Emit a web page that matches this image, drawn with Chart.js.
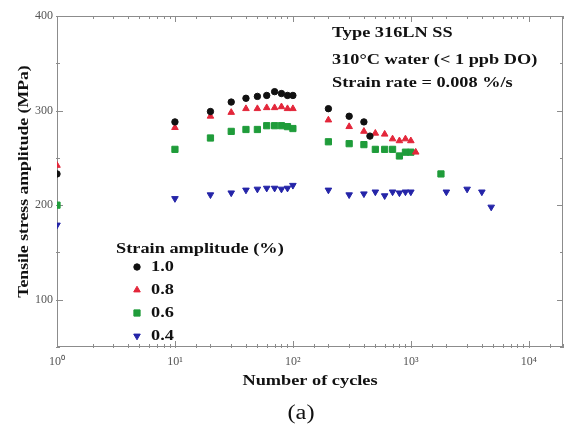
<!DOCTYPE html>
<html>
<head>
<meta charset="utf-8">
<script src="https://cdn.jsdelivr.net/npm/chart.js@4"></script>
<style>
    html, body { margin: 0; padding: 0; background: #fff; }
    #wrap { width: 565px; height: 426px; position: relative; }
</style>
</head>
<body>
<div id="wrap"><canvas id="stressChart"></canvas></div>
<script>
// Dados (ciclos e amplitude de tensão em MPa)
const cycles10 = [1, 10, 20, 30, 40, 50, 60, 70, 80, 90, 100, 200, 300, 400, 450];
const stress10 = [233, 288, 299, 309, 313, 315, 316, 320, 318, 316, 316, 302, 294, 288, 273];

const cycles08 = [1, 10, 20, 30, 40, 50, 60, 70, 80, 90, 100, 200, 300, 400, 500, 600, 700, 800, 900, 1000, 1100];
const stress08 = [242, 282, 294, 298, 302, 302, 303, 303, 304, 302, 302, 290, 283, 278, 276, 275, 270, 268, 270, 268, 256];

const cycles06 = [1, 10, 20, 30, 40, 50, 60, 70, 80, 90, 100, 200, 300, 400, 500, 600, 700, 800, 900, 1000, 1800];
const stress06 = [200, 259, 271, 278, 280, 280, 284, 284, 284, 283, 281, 267, 265, 264, 259, 259, 259, 252, 256, 256, 233];

const cycles04 = [1, 10, 20, 30, 40, 50, 60, 70, 80, 90, 100, 200, 300, 400, 500, 600, 700, 800, 900, 1000, 2000, 3000, 4000, 4800];
const stress04 = [179, 207, 211, 213, 216, 217, 218, 218, 217, 218, 221, 216, 211, 212, 214, 210, 214, 213, 214, 214, 214, 217, 214, 198];

const seriesLabels = ['1.0', '0.8', '0.6', '0.4'];
const yTickValues = [100, 200, 300, 400];
const noteLines = ['Type 316LN SS', '310\u00B0C water (< 1 ppb DO)', 'Strain rate = 0.008 %/s'];

const SERIF = '"Liberation Serif", "Times New Roman", serif';
const superDigits = ['\u2070', '\u00B9', '\u00B2', '\u00B3', '\u2074', '\u2075'];
const STRETCH = 1.22; // o texto da figura original é mais largo

function toPoints(xs, ys) {
    return xs.map((x, i) => ({ x: x, y: ys[i] }));
}

function isDecade(v) {
    const e = Math.log10(v);
    return Math.abs(e - Math.round(e)) < 1e-9;
}

// Escreve texto esticado na horizontal (opcionalmente rodado)
function drawWideText(ctx, text, x, y, align, rotation) {
    ctx.save();
    ctx.translate(x, y);
    if (rotation) ctx.rotate(rotation);
    ctx.scale(STRETCH, 1);
    ctx.textAlign = align;
    ctx.fillText(text, 0, 0);
    ctx.restore();
}

const markerStyles = [
    { color: '#111111', pointStyle: 'circle', radius: 3.2, rotation: 0 },
    { color: '#e3263a', pointStyle: 'triangle', radius: 3.8, rotation: 0 },
    { color: '#1f9c3a', pointStyle: 'rect', radius: 4.4, rotation: 0 },
    { color: '#2424a8', pointStyle: 'triangle', radius: 3.8, rotation: 180 }
];

const seriesData = [
    toPoints(cycles10, stress10),
    toPoints(cycles08, stress08),
    toPoints(cycles06, stress06),
    toPoints(cycles04, stress04)
];

// Moldura com marcas de escala para dentro
const frameTicks = {
    id: 'frameTicks',
    beforeDatasetsDraw(chart) {
        const { ctx, chartArea: a, scales: { x, y } } = chart;
        ctx.save();
        ctx.strokeStyle = '#8c8c8c';
        ctx.lineWidth = 1;
        ctx.strokeRect(a.left + 0.5, a.top + 0.5, a.width - 1, a.height - 1);
        ctx.beginPath();
        x.ticks.forEach(t => {
            const px = Math.round(x.getPixelForValue(t.value)) + 0.5;
            const len = isDecade(t.value) ? 6 : 3;
            ctx.moveTo(px, a.bottom + 1); ctx.lineTo(px, a.bottom - len);
            ctx.moveTo(px, a.top); ctx.lineTo(px, a.top + len);
        });
        y.ticks.forEach(t => {
            const py = Math.round(y.getPixelForValue(t.value)) + 0.5;
            const len = t.value % 100 === 0 ? 6 : 3;
            ctx.moveTo(a.left - 1, py); ctx.lineTo(a.left + len, py);
            ctx.moveTo(a.right, py); ctx.lineTo(a.right - len, py);
        });
        ctx.stroke();
        ctx.restore();
    }
};

// Títulos dos eixos, anotações e legenda
const notesLegend = {
    id: 'notesLegend',
    afterDraw(chart) {
        const { ctx, chartArea: a } = chart;
        ctx.save();
        ctx.fillStyle = '#111';
        ctx.textBaseline = 'middle';
        ctx.font = 'bold 15px ' + SERIF;

        drawWideText(ctx, 'Number of cycles', (a.left + a.right) / 2, 381, 'center');
        ctx.font = 'bold 14.5px ' + SERIF;
        drawWideText(ctx, 'Tensile stress amplitude (MPa)', 24, (a.top + a.bottom) / 2, 'center', -Math.PI / 2);
        ctx.font = 'bold 15px ' + SERIF;

        const noteY = [33, 60, 83];
        noteLines.forEach((line, i) => drawWideText(ctx, line, 332, noteY[i], 'left'));

        drawWideText(ctx, 'Strain amplitude (%)', 116, 249, 'left');
        const legendY = [267, 290, 313, 336];
        seriesLabels.forEach((label, i) => {
            const m = markerStyles[i];
            ctx.fillStyle = m.color;
            ctx.strokeStyle = m.color;
            ctx.lineWidth = 1;
            Chart.helpers.drawPoint(ctx, { pointStyle: m.pointStyle, radius: m.radius, rotation: m.rotation, borderWidth: 1 }, 137, legendY[i]);
            ctx.fillStyle = '#111';
            drawWideText(ctx, label, 151, legendY[i], 'left');
        });

        ctx.font = '20px ' + SERIF;
        drawWideText(ctx, '(a)', 301, 414, 'center');
        ctx.restore();
    }
};

new Chart(document.getElementById('stressChart'), {
    type: 'scatter',
    data: {
        datasets: seriesData.map((pts, i) => ({
            label: seriesLabels[i],
            data: pts,
            showLine: false,
            pointStyle: markerStyles[i].pointStyle,
            pointRadius: markerStyles[i].radius,
            pointRotation: markerStyles[i].rotation,
            pointBackgroundColor: markerStyles[i].color,
            pointBorderColor: markerStyles[i].color,
            pointBorderWidth: 1
        }))
    },
    options: {
        responsive: true,
        maintainAspectRatio: false,
        devicePixelRatio: 1,
        animation: false,
        layout: { autoPadding: false, padding: { left: 0, right: 2, top: 16, bottom: 0 } },
        plugins: {
            legend: { display: false },
            tooltip: { enabled: false }
        },
        scales: {
            x: {
                type: 'logarithmic',
                min: 1,
                max: 19500,
                afterFit: s => { s.height = 79; s.paddingLeft = 0; s.paddingRight = 0; },
                grid: { display: false, drawTicks: false },
                border: { display: false },
                ticks: {
                    autoSkip: false,
                    maxRotation: 0,
                    padding: 8,
                    color: '#555',
                    font: { family: SERIF, size: 12 },
                    callback: function (value) {
                        if (!isDecade(value)) return '';
                        return '10' + superDigits[Math.round(Math.log10(value))];
                    }
                }
            },
            y: {
                min: 50,
                max: 400,
                afterFit: s => { s.width = 57; },
                grid: { display: false, drawTicks: false },
                border: { display: false },
                ticks: {
                    stepSize: 50,
                    padding: 4,
                    color: '#555',
                    font: { family: SERIF, size: 12 },
                    callback: function (value) {
                        return yTickValues.includes(value) ? String(value) : '';
                    }
                }
            }
        }
    },
    plugins: [frameTicks, notesLegend]
});
</script>
</body>
</html>
